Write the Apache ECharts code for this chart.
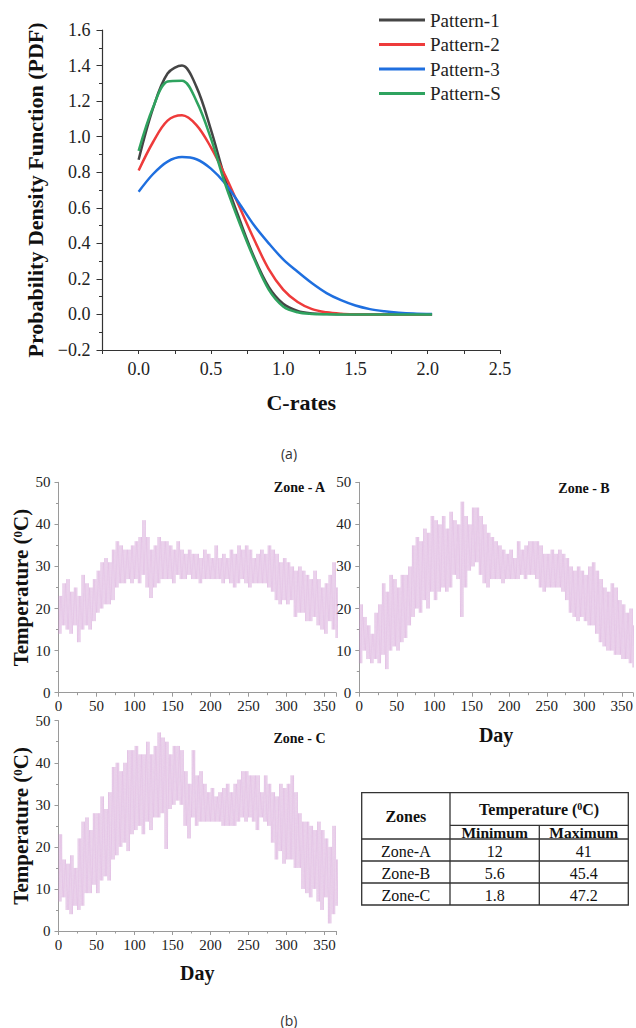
<!DOCTYPE html>
<html><head><meta charset="utf-8">
<script src="https://cdn.jsdelivr.net/npm/echarts@6.0.0/dist/echarts.min.js"></script>
<style>html,body{margin:0;padding:0;background:#fff}#c{width:636px;height:1028px}</style>
</head><body><div id="c"></div>
<script>
// ---------- (a) PDF curves ----------
const cRates   = [0, 0.1, 0.2, 0.3, 0.4, 0.5, 0.6, 0.7, 0.8, 0.9, 1.0, 1.1, 1.2, 1.3, 1.4, 1.5, 1.6, 1.7, 1.8, 1.9, 2.03];
const pattern1 = [0.87, 1.16, 1.355, 1.40, 1.28, 1.04, 0.76, 0.53, 0.32, 0.155, 0.06, 0.02, 0.006, 0.002, 0.001, 0, 0, 0, 0, 0, 0];
const pattern2 = [0.81, 0.97, 1.09, 1.12, 1.065, 0.94, 0.78, 0.60, 0.42, 0.255, 0.14, 0.07, 0.03, 0.012, 0.004, 0.001, 0, 0, 0, 0, 0];
const pattern3 = [0.69, 0.79, 0.86, 0.885, 0.873, 0.82, 0.735, 0.62, 0.50, 0.40, 0.31, 0.24, 0.175, 0.12, 0.08, 0.05, 0.03, 0.018, 0.01, 0.005, 0.002];
const patternS = [0.92, 1.165, 1.31, 1.315, 1.20, 0.99, 0.73, 0.51, 0.31, 0.14, 0.045, 0.012, 0.003, 0.001, 0, 0, 0, 0, 0, 0, 0];
const patternNames = ['Pattern-1', 'Pattern-2', 'Pattern-3', 'Pattern-S'];

// ---------- (b) daily temperature envelopes (sampled every 5 days) ----------
const DAYS = [0,5,10,15,20,25,30,35,40,45,50,55,60,65,70,75,80,85,90,95,100,105,110,115,120,125,130,135,140,145,150,155,160,165,170,175,180,185,190,195,200,205,210,215,220,225,230,235,240,245,250,255,260,265,270,275,280,285,290,295,300,305,310,315,320,325,330,335,340,345,350,355,360,365];
const zoneA_high = [23,26,27,24,25,23,28,26,25,27, 29,31,32,31,34,36,35,34,34,35, 36,37,41,37,34,35,37,36,36,35, 34,36,34,33,34,33,33,32,34,33, 32,35,32,33,32,34,33,35,34,35, 34,32,33,34,33,35,34,33,31,32, 31,30,29,30,29,28,27,29,27,25, 26,28,31,25];
const zoneA_low  = [14,16,15,14,16,12,15,16,15,17, 19,20,21,21,22,25,26,26,27,26, 27,26,28,25,22.5,25,26,27,27,27, 26,28,27,27,28,27,27,26,27,27, 27,27,27,26,27,26,25,26,27,26, 25,26,26,26,26,25,24,22,21,22, 21,22,18,19,19,17,17,18,16,15, 14,17,15,13];
const zoneB_high = [21,18,16,14,19,21,26,24,28,27, 25,28,28,30,35,37,36,39,38,42, 41,40,42,39,43,41,40,45.4,42,40, 44,44,42,40,38,37,36,35,34,33, 34,32,36,34,35,36,36,36,35,33, 33,34,33,34,33,32,30,29,30,29, 28,30,31,29,27,25,24,26,25,22, 21,19,20,16];
const zoneB_low  = [7,10,8,7,8,7,9,5.6,10,11, 10,12,13,16,18,20,19,22,20,24, 22,24,25,24,25,28,27,18,25,29, 30,31,28,26,25,27,27,27,26,27, 27,27,27,28,27,28,28,27,25,24, 25,25,25,25,24,22,19,18,17,18, 17,16,16,14,12,11,10,10,9,9, 8,8,7,6];
const zoneC_high = [23,17,16,18,15,22,26,27,24,28, 28,32,29,33,39,40,38,40,43,43, 44,42,42,45,42,44,47.2,46,45,42, 44,44,43,38,35,43,37,38,35,33, 34,32,33,34,35,33,35,36,38,38, 37,37,37,33,37,35,33,32,35,34, 35,37,33,28,26,26,25,24,26,24, 22,20,25,17];
const zoneC_low  = [7,8,5,4,6,5,6,9,9,11, 9,12,13,12,17,18,20,21,19,23, 24,25,23,26,24,27,27,28,19.5,29, 30,31,30,25,22,27,25,26,26,26, 26,26,26,25,25,25,25,26,27,26, 27,26,24,27,26,25,21,17,19,16, 17,17,15,15,10,9,8,10,7,5, 8,1.8,4,6];

// ---------- table ----------
const tableZones = ['Zone-A', 'Zone-B', 'Zone-C'];
const tableMin = [12, 5.6, 1.8];
const tableMax = [41, 45.4, 47.2];

const SERIF = 'Liberation Serif, Times New Roman, serif';
const SANS = 'Open Sans, DejaVu Sans, sans-serif';
const CURVE_COLORS = ['#454545', '#ee3b3b', '#1f6fdf', '#2fa35f'];
const BAND = 'rgba(205,150,210,0.5)';

function pairs(xs, ys) { return xs.map((x, i) => [x, ys[i]]); }
// each 5-day sample drawn as an oscillation between its read low and high
function zigzag(lo, hi) {
  const pts = [];
  const n = 6, step = 5 / n;
  for (let i = 0; i < DAYS.length; i++) {
    const d = DAYS[i];
    for (let k = 0; k < n; k += 2) {
      pts.push([d + k * step, lo[i]], [d + (k + 1) * step, hi[i]]);
    }
  }
  return pts;
}

const tempRich = {
  n: { fontFamily: SERIF, fontSize: 21, fontWeight: 'bold', color: '#111' },
  s: { fontFamily: SERIF, fontSize: 13, fontWeight: 'bold', color: '#111', verticalAlign: 'top' }
};
function tempX(gi, named) {
  return {
    gridIndex: gi, type: 'value', min: 0, max: 365, interval: 50,
    axisLine: { show: true, onZero: false, lineStyle: { color: '#9a9a9a', width: 1 } },
    axisTick: { show: true, length: 4, lineStyle: { color: '#9a9a9a' } },
    minorTick: { show: true, splitNumber: 2, length: 2.5, lineStyle: { color: '#9a9a9a' } },
    axisLabel: { showMaxLabel: false, fontFamily: SERIF, fontSize: 15, color: '#222', margin: 6 },
    splitLine: { show: false },
    name: named ? 'Day' : '', nameLocation: 'middle', nameGap: 32,
    nameTextStyle: { fontFamily: SERIF, fontSize: 20, fontWeight: 'bold', color: '#111' }
  };
}
function tempY(gi, named) {
  return {
    gridIndex: gi, type: 'value', min: 0, max: 50, interval: 10,
    axisLine: { show: true, onZero: false, lineStyle: { color: '#9a9a9a', width: 1 } },
    axisTick: { show: true, length: 4, lineStyle: { color: '#9a9a9a' } },
    minorTick: { show: true, splitNumber: 2, length: 2.5, lineStyle: { color: '#9a9a9a' } },
    axisLabel: { fontFamily: SERIF, fontSize: 15, color: '#222', margin: 8 },
    splitLine: { show: false },
    name: named ? '{n|Temperature (}{s|0}{n|C)}' : '', nameLocation: 'middle', nameGap: 21, nameRotate: 90,
    nameTextStyle: { rich: tempRich }
  };
}

// table graphics
const T = { L: 361.7, R: 628.3, T: 792.7, C1: 450, C2: 539.3, HS: 825.3, HB: 839, RH: 22 };
const tBottom = T.HB + T.RH * tableZones.length;
const lineStyle = { stroke: '#333', lineWidth: 1.3 };
const tableGraphics = [
  { type: 'rect', shape: { x: T.L, y: T.T, width: T.R - T.L, height: tBottom - T.T }, style: { fill: 'none', stroke: '#333', lineWidth: 1.3 } },
  { type: 'line', shape: { x1: T.C1, y1: T.T, x2: T.C1, y2: tBottom }, style: lineStyle },
  { type: 'line', shape: { x1: T.C2, y1: T.HS, x2: T.C2, y2: tBottom }, style: lineStyle },
  { type: 'line', shape: { x1: T.C1, y1: T.HS, x2: T.R, y2: T.HS }, style: lineStyle },
  { type: 'line', shape: { x1: T.L, y1: T.HB, x2: T.R, y2: T.HB }, style: lineStyle },
  { type: 'text', x: (T.L + T.C1) / 2, y: 816, style: { text: 'Zones', fontFamily: SERIF, fontSize: 16, fontWeight: 'bold', fill: '#111', align: 'center', verticalAlign: 'middle' } },
  { type: 'text', x: (T.C1 + T.R) / 2, y: 809, style: { text: '{b|Temperature (}{s|0}{b|C)}', align: 'center', verticalAlign: 'middle',
      rich: { b: { fontFamily: SERIF, fontSize: 16, fontWeight: 'bold', fill: '#111' }, s: { fontFamily: SERIF, fontSize: 10, fontWeight: 'bold', fill: '#111', verticalAlign: 'top' } } } },
  { type: 'text', x: (T.C1 + T.C2) / 2, y: 832.5, style: { text: 'Minimum', fontFamily: SERIF, fontSize: 15.5, fontWeight: 'bold', fill: '#111', align: 'center', verticalAlign: 'middle' } },
  { type: 'text', x: (T.C2 + T.R) / 2, y: 832.5, style: { text: 'Maximum', fontFamily: SERIF, fontSize: 15.5, fontWeight: 'bold', fill: '#111', align: 'center', verticalAlign: 'middle' } }
];
tableZones.forEach((z, i) => {
  const yTop = T.HB + T.RH * i;
  const yc = yTop + T.RH / 2 + 1.5;
  if (i > 0) tableGraphics.push({ type: 'line', shape: { x1: T.L, y1: yTop, x2: T.R, y2: yTop }, style: lineStyle });
  [[z, (T.L + T.C1) / 2], [String(tableMin[i]), (T.C1 + T.C2) / 2], [String(tableMax[i]), (T.C2 + T.R) / 2]].forEach(([t, x]) => {
    tableGraphics.push({ type: 'text', x: x, y: yc, style: { text: t, fontFamily: SERIF, fontSize: 16, fill: '#111', align: 'center', verticalAlign: 'middle' } });
  });
});

function txt(text, x, y, font, size, weight, color) {
  return { type: 'text', x: x, y: y, style: { text: text, fontFamily: font, fontSize: size, fontWeight: weight, fill: color, align: 'center', verticalAlign: 'middle' } };
}

const pdfSeries = [pattern1, pattern2, pattern3, patternS].map((vals, i) => ({
  name: patternNames[i], type: 'line', xAxisIndex: 0, yAxisIndex: 0,
  data: pairs(cRates, vals), smooth: 0.35, symbol: 'none',
  lineStyle: { color: CURVE_COLORS[i], width: 2.5 }, itemStyle: { color: CURVE_COLORS[i] }
}));
const tempSeries = [[zoneA_low, zoneA_high], [zoneB_low, zoneB_high], [zoneC_low, zoneC_high]].map((z, i) => ({
  type: 'line', xAxisIndex: i + 1, yAxisIndex: i + 1, data: zigzag(z[0], z[1]),
  symbol: 'none', silent: true, lineStyle: { color: BAND, width: 0.7 }
}));

const option = {
  animation: false,
  backgroundColor: '#fff',
  textStyle: { fontFamily: SERIF },
  grid: [
    { left: 102.5, top: 30, width: 397.5, height: 320 },
    { left: 58.5, top: 482.3, width: 277.5, height: 210.4 },
    { left: 359.3, top: 482.3, width: 277.5, height: 210.4 },
    { left: 58.5, top: 720.7, width: 277.5, height: 210.3 }
  ],
  legend: {
    data: patternNames.map(n => ({ name: n, icon: 'rect' })),
    orient: 'vertical', left: 374, top: 5.5, padding: 5,
    itemWidth: 46, itemHeight: 3, itemGap: 5.5,
    textStyle: { fontFamily: SERIF, fontSize: 19, color: '#222' }
  },
  xAxis: [
    {
      gridIndex: 0, type: 'value', min: -0.25, max: 2.5, interval: 0.25,
      axisLine: { show: true, onZero: false, lineStyle: { color: '#333', width: 1.2 } },
      axisTick: { show: true, length: 4, lineStyle: { color: '#333' } },
      axisLabel: {
        fontFamily: SERIF, fontSize: 18, color: '#222', margin: 10,
        formatter: v => (Math.abs(v * 2 - Math.round(v * 2)) < 1e-6 && v >= 0) ? v.toFixed(1) : ''
      },
      splitLine: { show: false },
      name: 'C-rates', nameLocation: 'middle', nameGap: 41,
      nameTextStyle: { fontFamily: SERIF, fontSize: 22, fontWeight: 'bold', color: '#111' }
    },
    tempX(1, false), tempX(2, true), tempX(3, true)
  ],
  yAxis: [
    {
      gridIndex: 0, type: 'value', min: -0.2, max: 1.6, interval: 0.2,
      axisLine: { show: true, onZero: false, lineStyle: { color: '#333', width: 1.2 } },
      axisTick: { show: true, length: 6, lineStyle: { color: '#333' } },
      minorTick: { show: true, splitNumber: 2, length: 3.5, lineStyle: { color: '#333' } },
      axisLabel: {
        fontFamily: SERIF, fontSize: 18, color: '#222', margin: 12,
        formatter: v => v < -1e-9 ? '\u2212' + Math.abs(v).toFixed(1) : Math.abs(v).toFixed(1)
      },
      splitLine: { show: false },
      name: 'Probability Density Function (PDF)', nameLocation: 'middle', nameGap: 49, nameRotate: 90,
      nameTextStyle: { fontFamily: SERIF, fontSize: 22, fontWeight: 'bold', color: '#111' }
    },
    tempY(1, true), tempY(2, false), tempY(3, true)
  ],
  series: pdfSeries.concat(tempSeries),
  graphic: [
    txt('(a)', 289, 453, SANS, 14, 'normal', '#333'),
    txt('(b)', 289, 1020, SANS, 14, 'normal', '#333'),
    txt('Zone - A', 299.5, 487.5, SERIF, 14, 'bold', '#111'),
    txt('Zone - B', 584, 488.5, SERIF, 14, 'bold', '#111'),
    txt('Zone - C', 299.5, 738.5, SERIF, 14, 'bold', '#111')
  ].concat(tableGraphics)
};

const chart = echarts.init(document.getElementById('c'), null, { renderer: 'svg', width: 636, height: 1028 });
chart.setOption(option);
</script></body></html>
